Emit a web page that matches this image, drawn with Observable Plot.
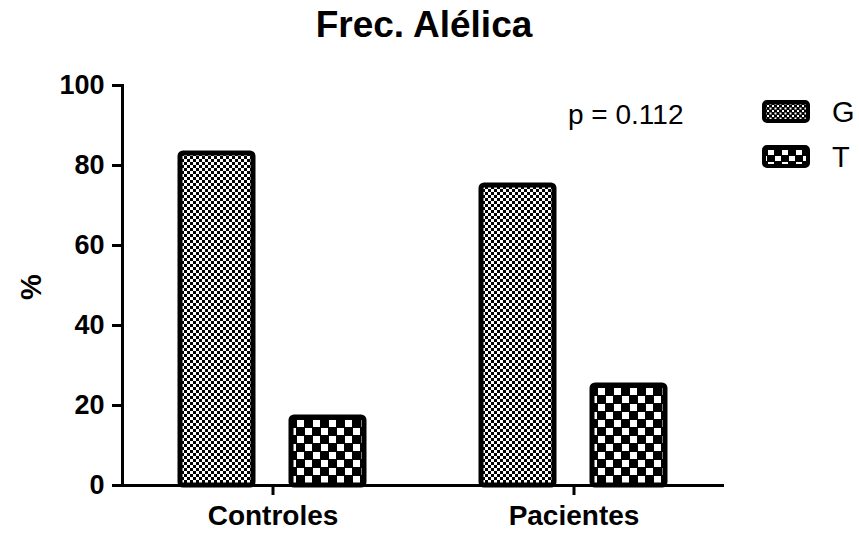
<!DOCTYPE html>
<html><head><meta charset="utf-8">
<script src="https://cdn.jsdelivr.net/npm/d3@7"></script>
<script src="https://cdn.jsdelivr.net/npm/@observablehq/plot@0.6"></script>
<style>
body{margin:0;background:#fff;font-family:Arial,"Liberation Sans",sans-serif;color:#000}
#wrap{position:relative;width:859px;height:535px;overflow:hidden}
#title{height:60px;line-height:50px;font-size:37px;font-weight:bold;text-align:center;padding-right:11px;box-sizing:border-box;width:859px}
#ylabel{position:absolute;left:31px;top:287px;font-size:29px;font-weight:bold;line-height:1;transform:translate(-50%,-50%) rotate(-90deg);white-space:nowrap}
#pval{position:absolute;left:568px;top:101px;font-size:28px;line-height:28px;white-space:nowrap}
.lg-sw{position:absolute;left:762px;width:48px;height:23px}
.lg-tx{position:absolute;left:832px;font-size:29px;line-height:23px}
</style></head>
<body>
<svg width="0" height="0" style="position:absolute">
<defs>
<pattern id="patG" patternUnits="userSpaceOnUse" width="6" height="6">
<rect width="6" height="6" fill="#000"/><rect x="0" y="0" width="3" height="3" fill="#fff"/><rect x="3" y="3" width="3" height="3" fill="#fff"/>
</pattern>
<pattern id="patT" patternUnits="userSpaceOnUse" width="16" height="16">
<rect width="16" height="16" fill="#000"/><rect x="0" y="0" width="7" height="7" fill="#fff"/><rect x="8" y="8" width="7" height="7" fill="#fff"/>
</pattern>
<pattern id="legG" patternUnits="userSpaceOnUse" width="5" height="5">
<rect width="5" height="5" fill="#000"/><rect x="0" y="0" width="2" height="2" fill="#fff"/><rect x="2.5" y="2.5" width="2" height="2" fill="#fff"/>
</pattern>
<pattern id="legT" patternUnits="userSpaceOnUse" width="14" height="12" x="6" y="5">
<rect width="14" height="12" fill="#000"/><rect x="0" y="0" width="6" height="5" fill="#fff"/><rect x="7" y="6" width="6" height="5" fill="#fff"/>
</pattern>
</defs>
</svg>
<div id="wrap">
<div id="title"></div>
<div id="chart"></div>
<div id="ylabel"></div>
<div id="pval"></div>
<div id="legend"></div>
</div>
<script>
const titleText = "Frec. Alélica";
const yLabel = "%";
const pText = "p = 0.112";
const groups = ["Controles", "Pacientes"];
const alleles = ["G", "T"];
const controlesValues = [83, 17];
const pacientesValues = [75, 25];
const yTicks = [0, 20, 40, 60, 80, 100];
const barPatterns = ["url(#patG)", "url(#patT)"];
const legendPatterns = ["url(#legG)", "url(#legT)"];

const seriesByGroup = [controlesValues, pacientesValues];
const data = groups.flatMap((g, i) => alleles.map((a, j) => ({group: g, allele: a, value: seriesByGroup[i][j]})));

document.getElementById("title").textContent = titleText;
document.getElementById("ylabel").textContent = yLabel;
document.getElementById("pval").textContent = pText;

const chart = Plot.plot({
  width: 859, height: 475,
  marginTop: 25, marginBottom: 50, marginLeft: 121, marginRight: 135,
  style: {fontFamily: "Arial, 'Liberation Sans', sans-serif", color: "#000", background: "#fff", overflow: "visible"},
  fx: {domain: groups, padding: 0, label: null},
  x: {domain: alleles, paddingInner: 0.339, paddingOuter: 0.515, axis: null},
  y: {domain: [0, 100], label: null},
  color: {domain: alleles, range: barPatterns},
  marks: [
    Plot.barY(data, {fx: "group", x: "allele", y: "value", fill: "allele", stroke: "#000", strokeWidth: 5, rx: 3, strokeLinejoin: "round"}),
    Plot.ruleY([0], {strokeWidth: 3, stroke: "#000"}),
    Plot.frame({anchor: "left", facetAnchor: "left", strokeWidth: 3, stroke: "#000"}),
    Plot.axisY({ticks: yTicks, tickSize: 10, tickPadding: 8, fontSize: 27, fontWeight: "bold", strokeWidth: 3, label: null}),
    Plot.axisFx({anchor: "bottom", tickSize: 10, tickPadding: 10, fontSize: 28, fontWeight: "bold", strokeWidth: 3, label: null})
  ]
});
document.getElementById("chart").appendChild(chart);

const legend = document.getElementById("legend");
const legendTops = [100, 145];
alleles.forEach((a, i) => {
  const sw = document.createElementNS("http://www.w3.org/2000/svg", "svg");
  sw.setAttribute("class", "lg-sw");
  sw.setAttribute("width", 48); sw.setAttribute("height", 23);
  sw.style.top = legendTops[i] + "px";
  const r = document.createElementNS("http://www.w3.org/2000/svg", "rect");
  r.setAttribute("x", 2); r.setAttribute("y", 2); r.setAttribute("width", 44); r.setAttribute("height", 19);
  r.setAttribute("rx", 3); r.setAttribute("fill", legendPatterns[i]);
  r.setAttribute("stroke", "#000"); r.setAttribute("stroke-width", 4);
  sw.appendChild(r);
  legend.appendChild(sw);
  const t = document.createElement("div");
  t.className = "lg-tx";
  t.style.top = (legendTops[i] + 1) + "px";
  t.textContent = a;
  legend.appendChild(t);
});
</script>
</body></html>
